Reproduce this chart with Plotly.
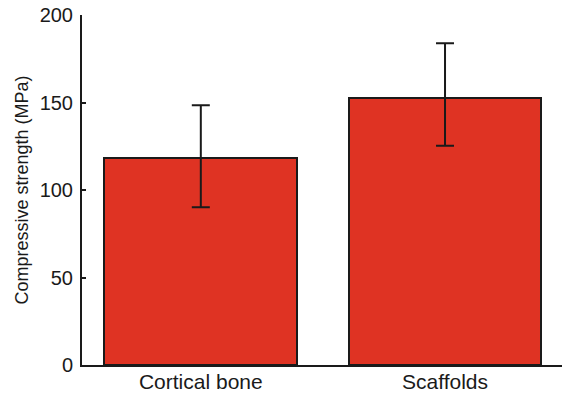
import plotly.graph_objects as go

categories = ["Cortical bone", "Scaffolds"]
strength = [118.5, 152.8]
err_plus = [30.0, 31.0]
err_minus = [28.3, 27.5]
y_ticks = [0, 50, 100, 150, 200]

ink = "#1a1a1a"
fig = go.Figure(go.Bar(
    x=[0, 1], y=strength, width=0.79,
    marker=dict(color="#DF3323", line=dict(color=ink, width=2)),
    error_y=dict(type="data", symmetric=False, array=err_plus, arrayminus=err_minus,
                 color=ink, thickness=2, width=9),
))
fig.update_layout(
    width=562, height=394,
    margin=dict(l=82, r=0, t=15, b=28.5),
    plot_bgcolor="white", paper_bgcolor="white",
    font=dict(family="Liberation Sans, Arial, sans-serif", color=ink),
    showlegend=False,
    bargap=0,
)
fig.update_xaxes(
    range=[-0.4865, 1.479], tickvals=[0, 1], ticktext=categories,
    showline=True, linecolor=ink, linewidth=2, ticks="", showgrid=False,
    zeroline=False, tickfont=dict(size=21), automargin=False,
    ticklabelstandoff=-3, ticklabeloverflow="allow",
)
fig.update_yaxes(
    range=[0, 200], tickvals=y_ticks, showline=True, linecolor=ink, linewidth=2,
    ticks="inside", ticklen=4, tickwidth=2, tickcolor=ink, showgrid=False, zeroline=False,
    tickfont=dict(size=20), ticklabelstandoff=3, automargin=False, ticklabeloverflow="allow",
    title=dict(text="Compressive strength (MPa)", font=dict(size=18), standoff=6),
)
fig.write_html("out.html", config={"displayModeBar": False},
               post_script="document.body.style.margin='0';")
